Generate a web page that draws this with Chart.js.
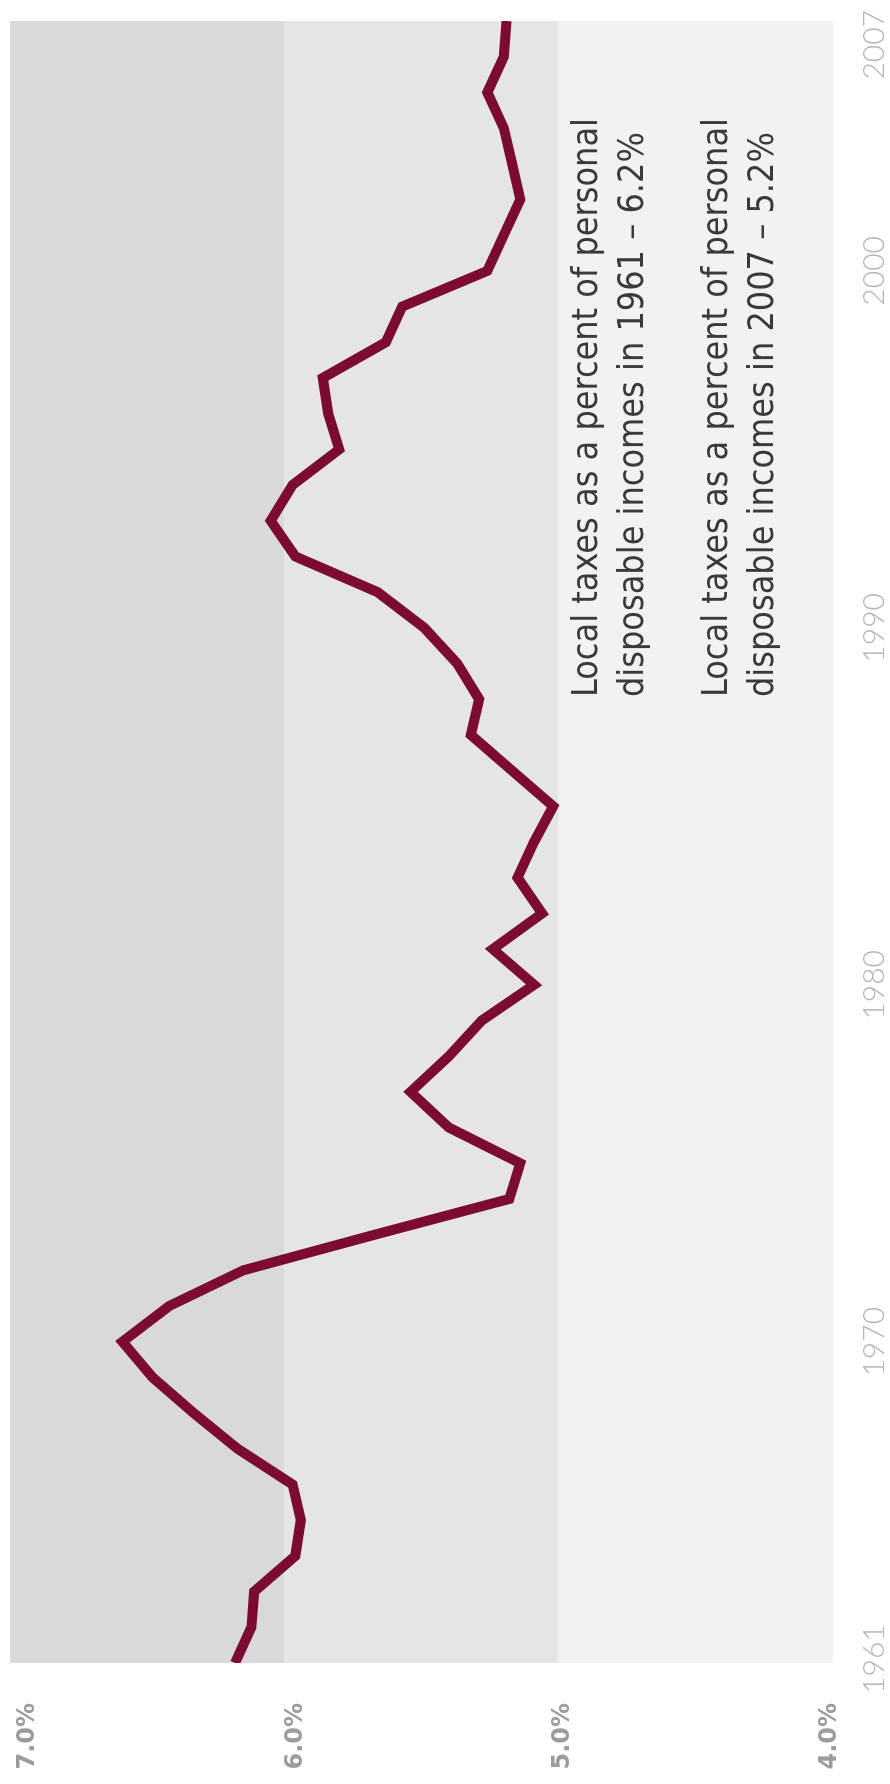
<!DOCTYPE html>
<html>
<head>
<meta charset="utf-8">
<script src="https://cdn.jsdelivr.net/npm/chart.js@4.4.1/dist/chart.umd.min.js"></script>
<style>
  html, body { margin: 0; padding: 0; background: #ffffff; overflow: hidden; }
  body { width: 890px; height: 1784px; position: relative; }
  #wrap {
    position: absolute; left: 0; top: 0;
    width: 1784px; height: 890px;
    transform-origin: 0 0;
    transform: translateY(1784px) rotate(-90deg);
  }
  canvas { display: block; }
</style>
</head>
<body>
<div id="wrap"><canvas id="c" width="1784" height="890"></canvas></div>
<script>
// ---- data ----
const years = [1961,1962,1963,1964,1965,1966,1967,1968,1969,1970,
               1971,1972,1973,1974,1975,1976,1977,1978,1979,1980,
               1981,1982,1983,1984,1985,1986,1987,1988,1989,1990,
               1991,1992,1993,1994,1995,1996,1997,1998,1999,2000,
               2001,2002,2003,2004,2005,2006,2007];
const localTaxShare = [6.18,6.12,6.11,5.96,5.94,5.97,6.17,6.33,6.48,6.59,
                       6.42,6.15,5.67,5.18,5.14,5.40,5.54,5.40,5.28,5.09,
                       5.24,5.06,5.15,5.09,5.02,5.17,5.32,5.29,5.37,5.49,
                       5.66,5.96,6.05,5.97,5.80,5.84,5.86,5.63,5.57,5.26,
                       5.20,5.14,5.17,5.20,5.26,5.20,5.19];
const yearTicks = [1961,1970,1980,1990,2000,2007];
const pctTicks = [7,6,5,4];
const bandEdges = [7,6,5,4];
const bandColors = ['#d9d9dc','#e5e5e6','#f2f2f2'];
const noteParagraphs = [
  ['Local taxes as a percent of personal', 'disposable incomes in 1961 \u2013 6.2%'],
  ['Local taxes as a percent of personal', 'disposable incomes in 2007 \u2013 5.2%']
];

// ---- styling constants ----
const LINE_COLOR = '#7c0b33';
const NOTE_X = 1087;
const NOTE_BASELINES = [[597, 643], [727, 773]];
const NOTE_WIDTH = 579;
const NOTE_FONT = "'Liberation Sans Narrow', 'DejaVu Sans Condensed', 'Liberation Sans', sans-serif";

const bandsPlugin = {
  id: 'bands',
  beforeDatasetsDraw(chart) {
    const { ctx, chartArea: a, scales: { y } } = chart;
    ctx.save();
    for (let i = 0; i < bandColors.length; i++) {
      const y0 = y.getPixelForValue(bandEdges[i]);
      const y1 = y.getPixelForValue(bandEdges[i + 1]);
      ctx.fillStyle = bandColors[i];
      ctx.fillRect(a.left, y0, a.right - a.left, y1 - y0);
    }
    ctx.restore();
  }
};

const axisLabelsPlugin = {
  id: 'axisLabels',
  afterDatasetsDraw(chart) {
    const { ctx, chartArea: a, scales: { x, yLab } } = chart;
    ctx.save();
    // year labels (original bottom axis)
    ctx.font = "300 30px Lato, 'Open Sans', sans-serif";
    ctx.fillStyle = '#b4b4b4';
    ctx.textAlign = 'center';
    ctx.textBaseline = 'middle';
    yearTicks.forEach(yr => {
      const t = String(yr);
      const w = ctx.measureText(t).width;
      let cx = x.getPixelForValue(yr);
      cx = Math.min(cx, chart.width - 10 - w / 2);
      cx = Math.max(cx, a.left + 4);
      ctx.fillText(t, cx, a.bottom + 41);
    });
    // percent labels (original left axis)
    ctx.font = "bold 24px 'DejaVu Sans', sans-serif";
    ctx.fillStyle = '#9c9c9c';
    ctx.textAlign = 'right';
    ctx.textBaseline = 'middle';
    pctTicks.forEach(v => {
      ctx.fillText(v.toFixed(1) + '%', a.left - 40, yLab.getPixelForValue(v));
    });
    ctx.restore();
  }
};

const notePlugin = {
  id: 'note',
  afterDatasetsDraw(chart) {
    const { ctx } = chart;
    ctx.save();
    ctx.font = "400 40px " + NOTE_FONT;
    const w = ctx.measureText(noteParagraphs[0][0]).width;
    const size = 40 * NOTE_WIDTH / w;
    ctx.font = "400 " + size.toFixed(2) + "px " + NOTE_FONT;
    ctx.fillStyle = '#3a3a3a';
    ctx.textAlign = 'left';
    ctx.textBaseline = 'alphabetic';
    noteParagraphs.forEach((para, p) => {
      para.forEach((line, l) => {
        ctx.fillText(line, NOTE_X, NOTE_BASELINES[p][l]);
      });
    });
    ctx.restore();
  }
};

new Chart(document.getElementById('c'), {
  type: 'line',
  data: {
    datasets: [{
      data: years.map((yr, i) => ({ x: yr, y: localTaxShare[i] })),
      borderColor: LINE_COLOR,
      borderWidth: 10,
      pointRadius: 0,
      tension: 0,
      borderJoinStyle: 'miter',
      borderCapStyle: 'butt',
      fill: false,
      xAxisID: 'x',
      yAxisID: 'y'
    }]
  },
  options: {
    responsive: false,
    animation: false,
    events: [],
    layout: { padding: { left: 121, right: 21, top: 10, bottom: 57 } },
    plugins: { legend: { display: false }, tooltip: { enabled: false } },
    scales: {
      x: { type: 'linear', min: 1961, max: 2007, display: false },
      y: { type: 'linear', min: 4, max: 7, display: false },
      // label axis: tick labels of the reference are spread a little wider than the bands
      yLab: { type: 'linear', position: 'left', min: 3.9887, max: 7.0673, display: false }
    }
  },
  plugins: [bandsPlugin, axisLabelsPlugin, notePlugin]
});
</script>
</body>
</html>
